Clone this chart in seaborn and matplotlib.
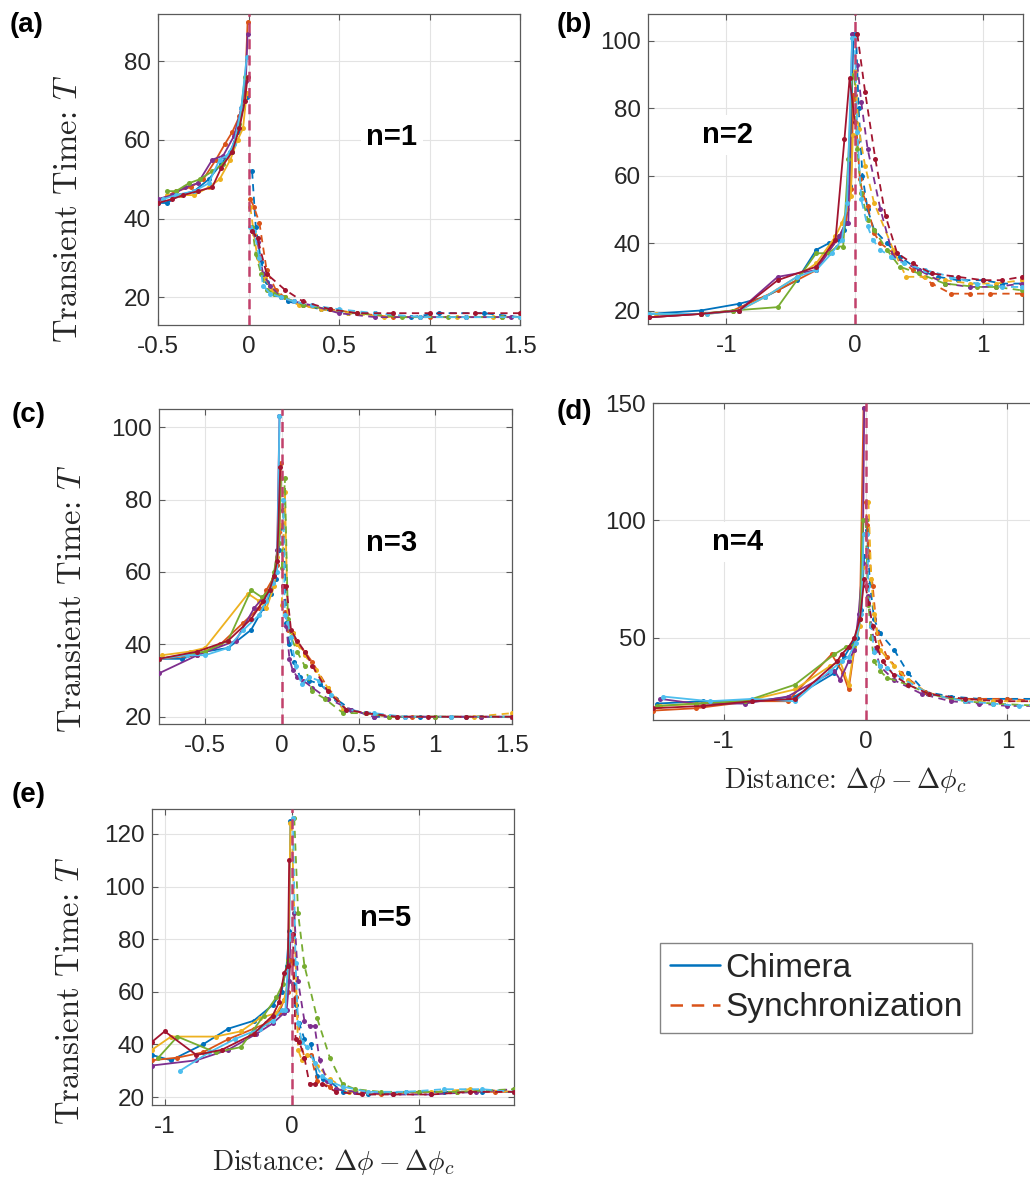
import matplotlib
matplotlib.use('Agg')
import matplotlib.pyplot as plt
from matplotlib.lines import Line2D
import seaborn as sns

# MATLAB default colour order, one colour per run
colors = ['#0072BD', '#D95319', '#EDB120', '#7E2F8E', '#77AC30', '#4DBEEE', '#A2142F']

# ---- panel (a), n=1 ----
a_chim_x = [[-0.5, -0.45, -0.38, -0.3, -0.22, -0.15, -0.1, -0.06, -0.03, -0.01],
            [-0.48, -0.4, -0.32, -0.25, -0.18, -0.13, -0.09, -0.05, -0.02, -0.005],
            [-0.45, -0.38, -0.3, -0.22, -0.16, -0.1, -0.06, -0.03, -0.01],
            [-0.5, -0.42, -0.35, -0.28, -0.2, -0.14, -0.08, -0.04, -0.015, -0.005],
            [-0.45, -0.4, -0.33, -0.27, -0.2, -0.14, -0.09, -0.05, -0.02],
            [-0.47, -0.4, -0.3, -0.22, -0.16, -0.12, -0.08, -0.04, -0.01],
            [-0.5, -0.42, -0.36, -0.28, -0.2, -0.15, -0.09, -0.05, -0.02, -0.005]]
a_chim_y = [[44, 44, 46, 47, 50, 54, 57, 62, 68, 71],
            [45, 47, 48, 50, 55, 59, 62, 66, 72, 90],
            [46, 46, 46, 48, 50, 55, 60, 63, 72],
            [45, 46, 48, 49, 55, 56, 61, 68, 75, 87],
            [47, 47, 49, 50, 52, 54, 57, 64, 76],
            [45, 46, 47, 49, 55, 56, 59, 68, 81],
            [44, 45, 46, 47, 48, 53, 57, 63, 70, 76]]
a_sync_x = [[0.02, 0.04, 0.07, 0.1, 0.15, 0.22, 0.3, 0.4, 0.55, 0.7, 0.9, 1.05, 1.3, 1.5],
            [0.01, 0.03, 0.06, 0.1, 0.15, 0.2, 0.3, 0.45, 0.6, 0.8, 1.0, 1.2, 1.4, 1.5],
            [0.01, 0.03, 0.05, 0.09, 0.13, 0.2, 0.28, 0.4, 0.55, 0.75, 0.95, 1.15, 1.35, 1.5],
            [0.02, 0.05, 0.08, 0.12, 0.18, 0.25, 0.35, 0.5, 0.7, 0.95, 1.2, 1.45],
            [0.02, 0.04, 0.07, 0.1, 0.14, 0.2, 0.3, 0.45, 0.6, 0.85, 1.1, 1.4],
            [0.01, 0.03, 0.06, 0.08, 0.12, 0.18, 0.25, 0.35, 0.5, 0.7, 0.95, 1.2, 1.5],
            [0.02, 0.05, 0.1, 0.2, 0.3, 0.45, 0.6, 0.8, 1.0, 1.25, 1.5]]
a_sync_y = [[52, 38, 29, 24, 21, 19, 18, 17, 16, 16, 15, 16, 16, 15],
            [45, 43, 39, 27, 22, 20, 18, 17, 16, 15, 15, 15, 15, 15],
            [43, 36, 30, 25, 22, 20, 18, 17, 16, 15, 15, 15, 15, 15],
            [37, 34, 26, 23, 20, 19, 18, 16, 15, 15, 15, 15],
            [38, 31, 26, 22, 21, 20, 18, 17, 16, 15, 15, 15],
            [38, 37, 30, 23, 21, 20, 19, 18, 17, 16, 15, 15, 15],
            [37, 35, 26, 22, 19, 17, 16, 16, 16, 16, 16]]

# ---- panel (b), n=2 ----
b_chim_x = [[-1.6, -1.2, -0.9, -0.7, -0.45, -0.3, -0.2, -0.12, -0.08, -0.04, -0.01],
            [-1.6, -1.2, -0.95, -0.6, -0.3, -0.18, -0.12, -0.07, -0.03, -0.01],
            [-1.55, -1.15, -0.9, -0.7, -0.45, -0.3, -0.15, -0.1, -0.06, -0.03, -0.015],
            [-1.6, -1.2, -0.9, -0.6, -0.3, -0.12, -0.07, -0.05, -0.02],
            [-1.6, -1.2, -0.95, -0.6, -0.3, -0.2, -0.14, -0.09, -0.05, -0.02],
            [-1.6, -1.15, -0.9, -0.7, -0.45, -0.3, -0.18, -0.1, -0.06, -0.02],
            [-1.6, -1.2, -0.9, -0.6, -0.3, -0.15, -0.08, -0.04, 0.0]]
b_chim_y = [[19, 20, 22, 24, 29, 38, 40, 41, 44, 57, 102],
            [18, 19, 20, 26, 32, 40, 42, 46, 56, 84],
            [19, 19, 20, 24, 30, 34, 42, 46, 50, 54, 72],
            [18, 19, 20, 30, 32, 42, 46, 46, 102],
            [19, 19, 20, 21, 37, 37, 39, 39, 65, 90],
            [19, 19, 20, 24, 30, 32, 37, 41, 52, 101],
            [18, 19, 20, 29, 33, 41, 71, 89, 76]]
b_sync_x = [[0.01, 0.03, 0.06, 0.1, 0.15, 0.25, 0.35, 0.5, 0.65, 0.8, 1.0, 1.15, 1.3],
            [0.0, 0.02, 0.04, 0.06, 0.1, 0.15, 0.2, 0.3, 0.45, 0.6, 0.75, 0.9, 1.05, 1.3],
            [0.0, 0.03, 0.08, 0.15, 0.3, 0.4, 0.55, 0.7, 0.9, 1.1, 1.3],
            [0.02, 0.05, 0.1, 0.2, 0.3, 0.5, 0.7, 0.9, 1.1, 1.3],
            [0.0, 0.02, 0.05, 0.1, 0.15, 0.25, 0.35, 0.5, 0.7, 0.95, 1.1, 1.3],
            [0.0, 0.02, 0.05, 0.1, 0.14, 0.2, 0.28, 0.38, 0.55, 0.75, 0.95, 1.15, 1.3],
            [0.02, 0.08, 0.16, 0.24, 0.33, 0.45, 0.6, 0.8, 1.0, 1.15, 1.3]]
b_sync_y = [[102, 80, 60, 50, 44, 40, 36, 32, 30, 29, 29, 28, 28],
            [84, 70, 59, 55, 51, 43, 40, 37, 32, 28, 25, 25, 25, 25],
            [91, 74, 63, 52, 38, 30, 30, 29, 28, 28, 29],
            [93, 82, 68, 50, 36, 32, 28, 27, 27, 28],
            [89, 68, 55, 47, 44, 38, 33, 31, 28, 27, 27, 26],
            [101, 73, 53, 45, 41, 38, 36, 34, 32, 30, 28, 27, 27],
            [102, 85, 65, 48, 37, 34, 31, 30, 29, 29, 30]]

# ---- panel (c), n=3 ----
c_chim_x = [[-0.8, -0.65, -0.5, -0.35, -0.2, -0.12, -0.07, -0.04, -0.02, -0.01],
            [-0.8, -0.55, -0.4, -0.25, -0.15, -0.1, -0.06, -0.03, -0.015, -0.005],
            [-0.78, -0.6, -0.5, -0.22, -0.15, -0.1, -0.05, -0.03, -0.01],
            [-0.8, -0.55, -0.3, -0.18, -0.12, -0.08, -0.05, -0.03, -0.015],
            [-0.8, -0.5, -0.35, -0.2, -0.13, -0.08, -0.05, -0.02, -0.005],
            [-0.8, -0.62, -0.5, -0.35, -0.25, -0.15, -0.1, -0.06, -0.03, -0.015],
            [-0.8, -0.55, -0.35, -0.2, -0.12, -0.08, -0.05, -0.03, -0.01]]
c_chim_y = [[36, 36, 38, 39, 44, 50, 54, 58, 66, 72],
            [36, 37, 40, 46, 50, 55, 58, 62, 71, 90],
            [37, 38, 39, 54, 52, 50, 56, 64, 73],
            [32, 37, 41, 50, 53, 55, 59, 66, 103],
            [36, 38, 41, 55, 53, 55, 60, 68, 86],
            [36, 37, 37, 39, 44, 48, 52, 57, 60, 103],
            [36, 38, 41, 47, 52, 55, 59, 63, 89]]
c_sync_x = [[0.01, 0.03, 0.05, 0.08, 0.12, 0.18, 0.25, 0.35, 0.45, 0.6, 0.75, 0.9, 1.2, 1.5],
            [0.02, 0.04, 0.07, 0.1, 0.15, 0.2, 0.3, 0.42, 0.55, 0.7, 0.85, 1.1, 1.3, 1.5],
            [0.0, 0.02, 0.04, 0.07, 0.1, 0.15, 0.22, 0.3, 0.4, 0.55, 0.75, 1.0, 1.25, 1.5],
            [0.01, 0.03, 0.05, 0.07, 0.1, 0.14, 0.2, 0.3, 0.45, 0.6, 0.8, 1.0, 1.3, 1.5],
            [0.0, 0.02, 0.04, 0.06, 0.1, 0.15, 0.2, 0.28, 0.4, 0.55, 0.7, 1.0, 1.5],
            [0.01, 0.02, 0.04, 0.06, 0.09, 0.13, 0.18, 0.24, 0.32, 0.42, 0.6, 0.8, 1.1, 1.5],
            [0.01, 0.03, 0.06, 0.1, 0.15, 0.2, 0.3, 0.42, 0.55, 0.75, 0.95, 1.2, 1.5]]
c_sync_y = [[77, 46, 40, 35, 31, 30, 29, 25, 22, 20, 20, 20, 20, 20],
            [49, 44, 43, 40, 38, 35, 28, 22, 21, 20, 20, 20, 20, 20],
            [51, 82, 45, 43, 40, 37, 33, 28, 22, 21, 20, 20, 20, 21],
            [56, 45, 36, 33, 31, 30, 28, 25, 22, 20, 20, 20, 20, 20],
            [61, 86, 47, 42, 38, 34, 27, 25, 21, 21, 20, 20, 20],
            [80, 48, 46, 42, 34, 29, 31, 30, 26, 22, 21, 20, 20, 20],
            [56, 56, 44, 41, 38, 34, 27, 22, 21, 20, 20, 20, 20]]

# ---- panel (d), n=4 ----
d_chim_x = [[-1.47, -1.15, -0.8, -0.5, -0.22, -0.15, -0.1, -0.06, -0.03, -0.01],
            [-1.5, -1.2, -0.8, -0.55, -0.24, -0.16, -0.12, -0.08, -0.04, -0.015],
            [-1.45, -1.15, -0.85, -0.5, -0.25, -0.18, -0.12, -0.08, -0.04, -0.02],
            [-1.45, -1.2, -0.85, -0.55, -0.22, -0.18, -0.12, -0.08, -0.05, -0.02, -0.01],
            [-1.47, -1.2, -0.85, -0.5, -0.22, -0.14, -0.08, -0.04, -0.02],
            [-1.43, -1.1, -0.8, -0.5, -0.25, -0.17, -0.12, -0.07, -0.03, -0.015],
            [-1.5, -1.15, -0.8, -0.5, -0.2, -0.17, -0.12, -0.08, -0.04, -0.01]]
d_chim_y = [[22, 23, 23, 25, 35, 42, 47, 50, 62, 85],
            [19, 20, 23, 23, 43, 35, 28, 45, 60, 148],
            [21, 22, 23, 28, 38, 40, 30, 46, 55, 80],
            [24, 22, 22, 25, 36, 32, 40, 45, 60, 82, 148],
            [21, 22, 23, 30, 43, 46, 47, 58, 100],
            [25, 23, 24, 23, 36, 40, 42, 48, 60, 94],
            [20, 21, 23, 24, 40, 43, 46, 50, 58, 75]]
d_sync_x = [[0.01, 0.03, 0.06, 0.1, 0.2, 0.3, 0.42, 0.6, 0.8, 1.0, 1.25],
            [0.0, 0.01, 0.02, 0.05, 0.08, 0.15, 0.25, 0.42, 0.6, 0.8, 1.0, 1.25],
            [0.02, 0.04, 0.06, 0.1, 0.2, 0.3, 0.45, 0.7, 0.9, 1.25],
            [0.0, 0.02, 0.04, 0.07, 0.1, 0.2, 0.4, 0.6, 0.8, 1.0, 1.25],
            [0.0, 0.02, 0.04, 0.06, 0.1, 0.15, 0.3, 0.45, 0.7, 0.9, 1.25],
            [0.01, 0.02, 0.04, 0.06, 0.1, 0.15, 0.25, 0.45, 0.7, 0.9, 1.08, 1.25],
            [0.0, 0.02, 0.05, 0.08, 0.12, 0.2, 0.3, 0.45, 0.7, 0.95, 1.25]]
d_sync_y = [[96, 73, 58, 52, 45, 35, 27, 25, 24, 24, 24],
            [108, 98, 87, 72, 52, 42, 35, 27, 24, 24, 24, 23],
            [108, 75, 60, 45, 38, 32, 26, 23, 23, 23],
            [100, 68, 55, 45, 38, 32, 26, 23, 22, 21, 21],
            [100, 64, 50, 40, 36, 33, 30, 26, 23, 22, 21],
            [94, 72, 55, 44, 38, 37, 33, 26, 23, 22, 21, 22],
            [72, 65, 55, 46, 40, 34, 30, 26, 24, 23, 23]]

# ---- panel (e), n=5 ----
e_chim_x = [[-1.1, -0.95, -0.7, -0.5, -0.3, -0.15, -0.08, -0.04, -0.02, -0.01],
            [-1.1, -0.9, -0.7, -0.5, -0.3, -0.2, -0.1, -0.06, -0.03, -0.01],
            [-1.1, -0.95, -0.6, -0.4, -0.25, -0.12, -0.06, -0.03, -0.01],
            [-1.1, -0.75, -0.5, -0.28, -0.15, -0.06, -0.04, -0.02, -0.01],
            [-1.05, -0.9, -0.6, -0.4, -0.22, -0.12, -0.07, -0.03, -0.015],
            [-0.88, -0.65, -0.45, -0.25, -0.15, -0.08, -0.05, -0.02, -0.01],
            [-1.1, -1.0, -0.75, -0.55, -0.3, -0.15, -0.1, -0.06, -0.03, -0.02]]
e_chim_y = [[36, 34, 40, 46, 49, 55, 60, 70, 83, 125],
            [34, 35, 37, 42, 46, 48, 52, 57, 60, 72],
            [38, 43, 43, 45, 50, 52, 57, 64, 124],
            [32, 34, 38, 44, 48, 52, 53, 64, 81],
            [35, 43, 37, 39, 51, 58, 63, 72, 81],
            [30, 37, 42, 46, 49, 53, 53, 80, 82],
            [41, 45, 36, 38, 44, 51, 56, 67, 70, 110]]
e_sync_x = [[0.01, 0.03, 0.06, 0.1, 0.15, 0.2, 0.25, 0.3, 0.4, 0.6, 0.9, 1.2, 1.5, 1.75],
            [0.0, 0.03, 0.07, 0.1, 0.15, 0.2, 0.3, 0.35, 0.5, 0.7, 1.0, 1.3, 1.6, 1.75],
            [0.0, 0.02, 0.05, 0.08, 0.12, 0.2, 0.3, 0.45, 0.6, 0.8, 1.1, 1.4, 1.75],
            [0.02, 0.05, 0.1, 0.14, 0.18, 0.22, 0.28, 0.35, 0.5, 0.8, 1.1, 1.45, 1.75],
            [0.02, 0.05, 0.1, 0.2, 0.3, 0.4, 0.5, 0.7, 1.0, 1.3, 1.75],
            [0.01, 0.03, 0.05, 0.08, 0.12, 0.18, 0.24, 0.3, 0.4, 0.6, 0.9, 1.2, 1.5, 1.75],
            [0.01, 0.03, 0.06, 0.1, 0.14, 0.18, 0.24, 0.35, 0.55, 0.8, 1.1, 1.4, 1.75]]
e_sync_y = [[63, 55, 48, 42, 40, 28, 27, 26, 22, 21, 22, 22, 22, 22],
            [72, 58, 41, 35, 36, 26, 24, 23, 22, 21, 22, 22, 22, 22],
            [124, 90, 38, 34, 36, 32, 27, 22, 22, 21, 22, 23, 22],
            [90, 64, 49, 47, 47, 34, 26, 23, 22, 21, 21, 22, 23],
            [126, 90, 70, 50, 35, 25, 23, 22, 22, 22, 23],
            [126, 71, 48, 41, 39, 33, 28, 26, 24, 22, 22, 23, 23, 22],
            [82, 42, 41, 35, 25, 25, 25, 22, 21, 21, 21, 22, 22]]

panel_tags = ['(a)', '(b)', '(c)', '(d)', '(e)']
n_labels = ['n=1', 'n=2', 'n=3', 'n=4', 'n=5']
xlims = [(-0.5, 1.5), (-1.61, 1.31), (-0.8, 1.5), (-1.5, 1.23), (-1.1, 1.75)]
ylims = [(13, 92), (16, 108), (18, 105), (15, 150), (17, 129.5)]
xticks = [[-0.5, 0, 0.5, 1, 1.5], [-1, 0, 1], [-0.5, 0, 0.5, 1, 1.5], [-1, 0, 1], [-1, 0, 1]]
yticks = [[20, 40, 60, 80], [20, 40, 60, 80, 100], [20, 40, 60, 80, 100],
          [50, 100, 150], [20, 40, 60, 80, 100, 120]]

sns.set_theme(style='whitegrid')
plt.rcParams['font.family'] = ['Liberation Sans', 'DejaVu Sans']
plt.rcParams['mathtext.fontset'] = 'cm'
plt.rcParams['axes.unicode_minus'] = False

W, H = 1030, 1180
fig = plt.figure(figsize=(W / 100, H / 100), dpi=100)

# axes boxes in pixels: left, top, right, bottom
boxes = [(158, 14, 520, 325), (648, 14, 1023, 324), (159, 409, 512, 724),
         (653, 403, 1040, 720), (152, 809, 514, 1105)]
chim = [(a_chim_x, a_chim_y), (b_chim_x, b_chim_y), (c_chim_x, c_chim_y),
        (d_chim_x, d_chim_y), (e_chim_x, e_chim_y)]
sync = [(a_sync_x, a_sync_y), (b_sync_x, b_sync_y), (c_sync_x, c_sync_y),
        (d_sync_x, d_sync_y), (e_sync_x, e_sync_y)]
n_pos = [(392, 137), (727, 135), (392, 543), (738, 542), (386, 918)]
tag_pos = [(27, 25), (574, 25), (29, 415), (574, 412), (29, 795)]

for i, (l, t, r, b) in enumerate(boxes):
    ax = fig.add_axes([l / W, 1 - b / H, (r - l) / W, (b - t) / H])
    ax.set_facecolor('white')
    ax.grid(True, color='#e3e3e3', linewidth=0.8)
    for sp in ax.spines.values():
        sp.set_color('#5a5a5a')
        sp.set_linewidth(0.9)

    cx, cy = chim[i]
    for k in range(len(cx)):
        sns.lineplot(x=cx[k], y=cy[k], ax=ax, sort=False, estimator=None,
                     color=colors[k], linewidth=1.3, marker='o', markersize=3.6,
                     markeredgewidth=0, zorder=3)
    sx, sy = sync[i]
    for k in range(len(sx)):
        sns.lineplot(x=sx[k], y=sy[k], ax=ax, sort=False, estimator=None,
                     color=colors[k], linewidth=1.3, linestyle=(0, (4, 3)),
                     marker='o', markersize=3.6, markeredgewidth=0, zorder=3)

    ax.axvline(0, color='#C2416B', linewidth=1.8, linestyle=(0, (4, 2.5)), zorder=4)

    ax.set_xlim(*xlims[i])
    ax.set_ylim(*ylims[i])
    ax.set_xticks(xticks[i])
    ax.set_xticklabels([('%g' % v) for v in xticks[i]])
    ax.set_yticks(yticks[i])
    ax.set_yticklabels([str(v) for v in yticks[i]])
    ax.tick_params(direction='in', length=4, width=0.8, color='#5a5a5a',
                   labelsize=17.5, labelcolor='#262626', top=True, right=True,
                   bottom=True, left=True)
    ax.tick_params(axis='x', pad=8)
    ax.tick_params(axis='y', pad=5)
    ax.set_xlabel('')
    ax.set_ylabel('')

    nx, ny = n_pos[i]
    ax.text((nx - l) / (r - l), (b - ny) / (b - t), n_labels[i], transform=ax.transAxes,
            ha='center', va='center', fontsize=21, fontweight='bold', color='black',
            bbox=dict(facecolor='white', edgecolor='none', pad=4), zorder=5)

    tx, ty = tag_pos[i]
    fig.text(tx / W, 1 - ty / H, panel_tags[i], ha='center', va='center',
             fontsize=20, fontweight='bold', color='black')

ylab = r'Transient Time: $T$'
for (x, y) in [(68, 209), (72, 599), (70, 991)]:
    fig.text(x / W, 1 - y / H, ylab, rotation=90, ha='center', va='center',
             fontsize=23.5, color='#262626', family='cmr10')

xlab = r'Distance: $\Delta\phi - \Delta\phi_c$'
for (x, y) in [(845, 780), (333, 1162)]:
    fig.text(x / W, 1 - y / H, xlab, ha='center', va='center', fontsize=20,
             color='#262626', family='cmr10')

handles = [Line2D([], [], color=colors[0], linewidth=1.8),
           Line2D([], [], color=colors[1], linewidth=1.8, linestyle=(0, (5, 3.5)))]
leg = fig.legend(handles, ['Chimera', 'Synchronization'], loc='upper left',
                 bbox_to_anchor=(660 / W, 1 - 943 / H), fontsize=24, frameon=True,
                 fancybox=False, edgecolor='#666666', handlelength=1.5,
                 handletextpad=0.15, borderpad=0.3, labelspacing=0.25,
                 borderaxespad=0)
leg.get_frame().set_linewidth(1.0)

fig.savefig('out.png', dpi=100, facecolor='white')
